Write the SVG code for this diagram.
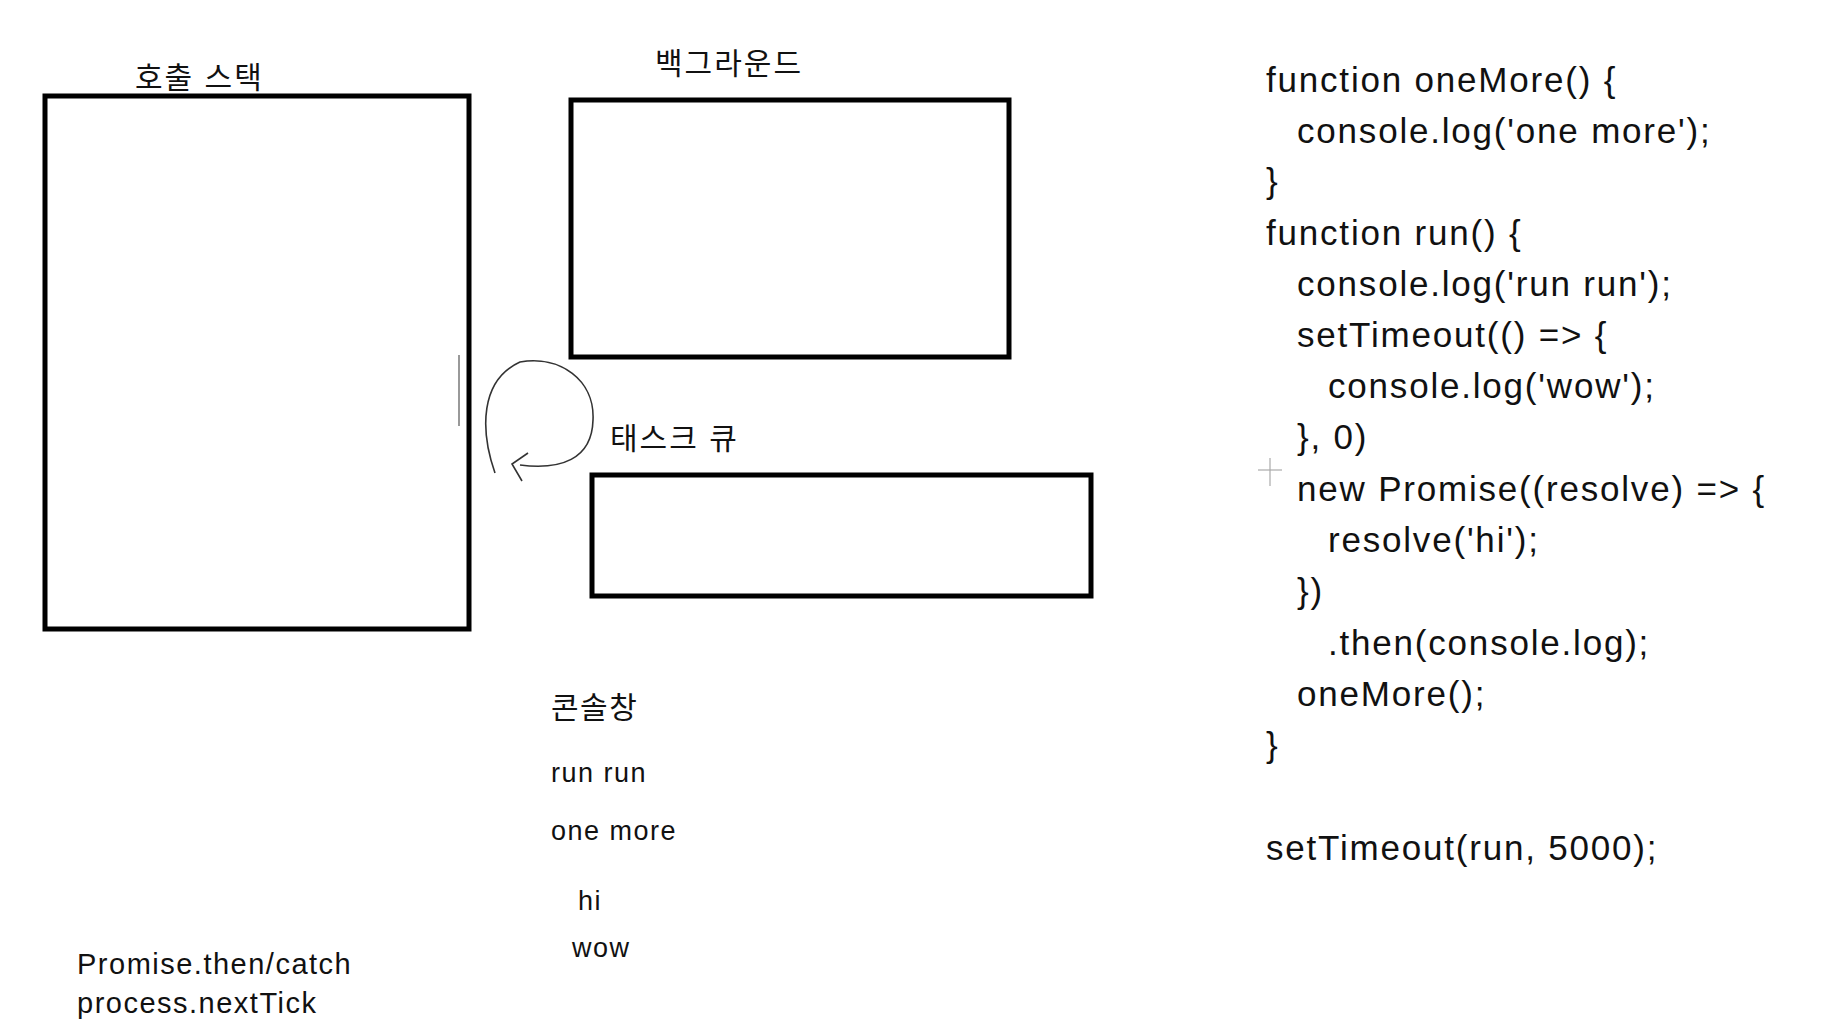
<svg xmlns="http://www.w3.org/2000/svg" width="1830" height="1034" viewBox="0 0 1830 1034">
<style>
text{font-family:"Liberation Sans","Noto Sans CJK KR",sans-serif;fill:#111}
.box{fill:none;stroke:#000;stroke-width:5}
.lbl{font-size:30px}
.con{font-size:27px;letter-spacing:1.5px}
.code{font-size:35px;letter-spacing:1.8px}
</style>
<rect width="1830" height="1034" fill="#fff"/>
<g id="callstack"><rect class="box" x="45" y="96" width="424" height="533"/><text class="lbl" x="135" y="88" style="letter-spacing:2px">호출 스택</text></g>
<g id="background"><rect class="box" x="571" y="100" width="438" height="257"/><text class="lbl" x="655" y="74" style="letter-spacing:2px">백그라운드</text></g>
<g id="taskqueue"><rect class="box" x="592" y="475" width="499" height="121"/><text class="lbl" x="610" y="449" style="letter-spacing:2px">태스크 큐</text></g>
<g id="connectors" fill="none" stroke="#333" stroke-width="1.6">
<line x1="459" y1="355" x2="459" y2="426" stroke="#999" stroke-width="2"/>
<path d="M495,473 C480,430 480,380 520,362 C560,355 595,380 593,420 C592,460 560,470 520,465"/>
<path d="M528,453 L512,464 L522,481"/>
</g>
<g id="cross" stroke="#aaa" stroke-width="1.2"><line x1="1258" y1="470" x2="1282" y2="470"/><line x1="1270" y1="458" x2="1270" y2="486"/></g>
<g id="console" class="con">
<text x="551" y="718" style="font-size:30px">콘솔창</text>
<text x="551" y="782">run run</text>
<text x="551" y="840">one more</text>
<text x="578" y="910">hi</text>
<text x="572" y="957">wow</text>
</g>
<g id="notes" style="font-size:29px;letter-spacing:1.5px">
<text x="77" y="974">Promise.then/catch</text>
<text x="77" y="1013">process.nextTick</text>
</g>
<g id="code" class="code">
<text x="1266" y="92">function oneMore() {</text>
<text x="1297" y="143">console.log('one more');</text>
<text x="1266" y="193">}</text>
<text x="1266" y="245">function run() {</text>
<text x="1297" y="296">console.log('run run');</text>
<text x="1297" y="347">setTimeout(() =&gt; {</text>
<text x="1328" y="398">console.log('wow');</text>
<text x="1297" y="449">}, 0)</text>
<text x="1297" y="501">new Promise((resolve) =&gt; {</text>
<text x="1328" y="552">resolve('hi');</text>
<text x="1297" y="603">})</text>
<text x="1328" y="655">.then(console.log);</text>
<text x="1297" y="706">oneMore();</text>
<text x="1266" y="757">}</text>
<text x="1266" y="860">setTimeout(run, 5000);</text>
</g>
</svg>
